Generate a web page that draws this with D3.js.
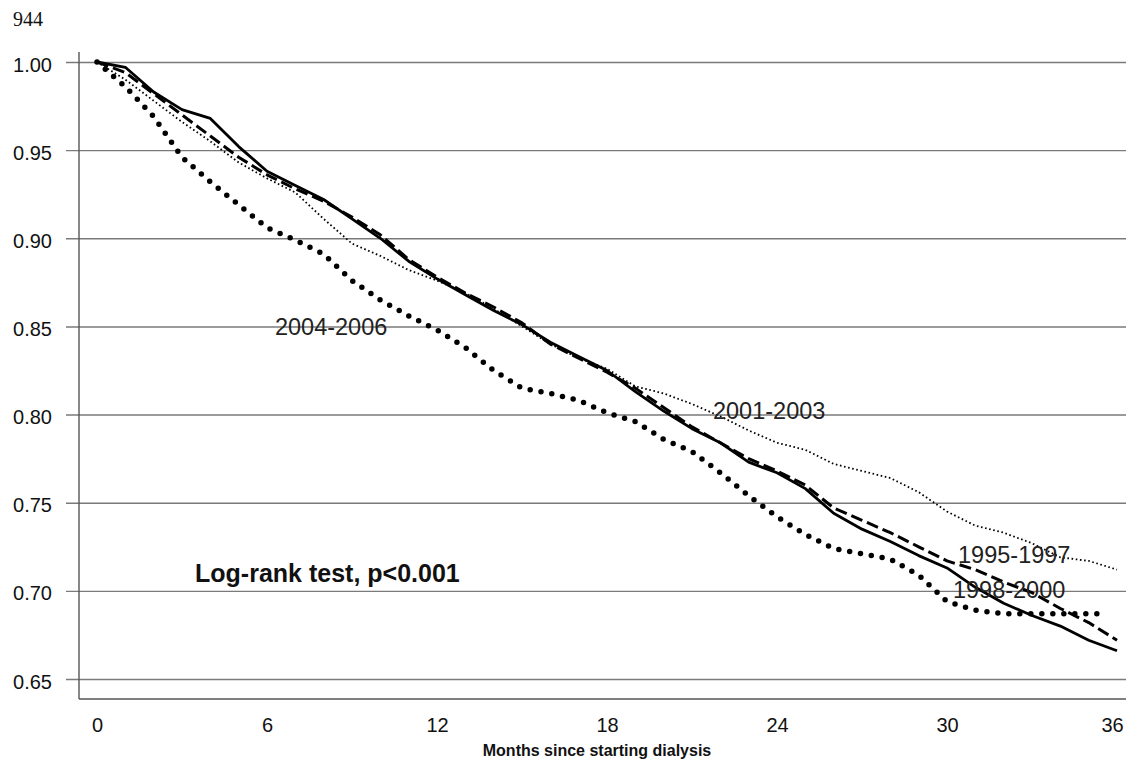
<!DOCTYPE html>
<html>
<head>
<meta charset="utf-8">
<script src="https://cdn.jsdelivr.net/npm/d3@7"></script>
<style>
  body { margin: 0; background: #fff; }
  svg { display: block; font-family: "Liberation Sans", Arial, sans-serif; }
</style>
</head>
<body>
<svg id="chart" width="1126" height="774"></svg>
<script>
'use strict';

// months since starting dialysis
const months = [0, 1, 2, 3, 4, 5, 6, 7, 8, 9, 10, 11, 12, 13, 14, 15, 16, 17, 18,
  19, 20, 21, 22, 23, 24, 25, 26, 27, 28, 29, 30, 31, 32, 33, 34, 35, 36];
// the 2004-2006 cohort stops a bit earlier
const months0406 = [0, 1, 2, 3, 4, 5, 6, 7, 8, 9, 10, 11, 12, 13, 14, 15, 16, 17, 18,
  19, 20, 21, 22, 23, 24, 25, 26, 27, 28, 29, 30, 31, 32, 33, 34, 35, 35.5];

const surv9597 = [1.000, 0.994, 0.982, 0.970, 0.958, 0.946, 0.936, 0.928, 0.921, 0.912,
  0.902, 0.888, 0.878, 0.869, 0.861, 0.852, 0.840, 0.832, 0.824, 0.815, 0.804, 0.793,
  0.784, 0.775, 0.768, 0.760, 0.747, 0.740, 0.733, 0.725, 0.717, 0.712, 0.705, 0.699,
  0.690, 0.682, 0.672];
const surv9800 = [1.000, 0.997, 0.983, 0.973, 0.968, 0.952, 0.938, 0.930, 0.922, 0.911,
  0.900, 0.887, 0.877, 0.868, 0.859, 0.851, 0.841, 0.833, 0.825, 0.813, 0.802, 0.792,
  0.784, 0.773, 0.767, 0.758, 0.744, 0.735, 0.728, 0.720, 0.713, 0.702, 0.693, 0.686,
  0.680, 0.672, 0.666];
const surv0103 = [1.000, 0.990, 0.978, 0.966, 0.955, 0.943, 0.934, 0.926, 0.911, 0.897,
  0.890, 0.882, 0.876, 0.869, 0.860, 0.850, 0.840, 0.832, 0.826, 0.816, 0.812, 0.806,
  0.799, 0.791, 0.784, 0.780, 0.772, 0.768, 0.764, 0.756, 0.745, 0.737, 0.733, 0.727,
  0.719, 0.717, 0.712];
const surv0406 = [1.000, 0.986, 0.969, 0.946, 0.932, 0.919, 0.906, 0.899, 0.891, 0.876,
  0.865, 0.856, 0.848, 0.838, 0.825, 0.815, 0.812, 0.808, 0.801, 0.796, 0.786, 0.779,
  0.767, 0.754, 0.742, 0.732, 0.724, 0.721, 0.718, 0.709, 0.694, 0.689, 0.687, 0.687,
  0.687, 0.687, 0.687];

const xTicks = [0, 6, 12, 18, 24, 30, 36];
const yTicks = [0.65, 0.70, 0.75, 0.80, 0.85, 0.90, 0.95, 1.00];

const svg = d3.select('#chart');

const x = d3.scaleLinear().domain([0, 36]).range([97, 1117]);
const y = d3.scaleLinear().domain([0.65, 1]).range([679, 62]);

const axisLeft = 79;
const plotTop = 52;
const plotBottom = 699;

// page number
svg.append('text')
  .attr('x', 13)
  .attr('y', 26)
  .style('font-family', '"Liberation Serif", "Times New Roman", serif')
  .style('font-size', '20px')
  .attr('fill', '#111')
  .text('944');

// horizontal gridlines (extend left of the axis like ticks)
const yAxis = d3.axisLeft(y)
  .tickValues(yTicks)
  .tickFormat(d3.format('.2f'))
  .tickSize(-(1126 - 66))
  .tickPadding(14);

const gy = svg.append('g')
  .attr('transform', `translate(66,0)`)
  .call(yAxis);
gy.select('.domain').remove();
gy.selectAll('.tick line')
  .attr('stroke', '#7a7a7a')
  .attr('stroke-width', 1.4);
gy.selectAll('.tick text')
  .attr('dy', '0.45em')
  .attr('fill', '#111')
  .style('font-size', '20px')
  .style('font-family', '"Liberation Sans", Arial, sans-serif');

// axis lines
svg.append('line')
  .attr('x1', axisLeft).attr('x2', axisLeft)
  .attr('y1', plotTop).attr('y2', plotBottom)
  .attr('stroke', '#555').attr('stroke-width', 1.4);
svg.append('line')
  .attr('x1', axisLeft).attr('x2', 1126)
  .attr('y1', plotBottom).attr('y2', plotBottom)
  .attr('stroke', '#555').attr('stroke-width', 1.4);

// x tick labels
const xAxis = d3.axisBottom(x)
  .tickValues(xTicks)
  .tickSize(0)
  .tickPadding(19);
const gx = svg.append('g')
  .attr('transform', `translate(0,${plotBottom})`)
  .call(xAxis);
gx.select('.domain').remove();
gx.selectAll('.tick text')
  .attr('fill', '#111')
  .attr('dx', d => d === 36 ? '-0.25em' : null)
  .style('font-size', '20px')
  .style('font-family', '"Liberation Sans", Arial, sans-serif');

svg.append('text')
  .attr('x', 597)
  .attr('y', 756)
  .attr('text-anchor', 'middle')
  .style('font-size', '16px')
  .style('font-weight', 'bold')
  .attr('fill', '#111')
  .text('Months since starting dialysis');

// survival curves
const toPoints = (ms, vals) => ms.map((m, i) => [m, vals[i]]);

const line = d3.line()
  .x(d => x(d[0]))
  .y(d => y(d[1]));

const curves = [
  { pts: toPoints(months, surv0103), width: 1.8, dash: '1.6 2.6', cap: 'butt' },
  { pts: toPoints(months0406, surv0406), width: 5.5, dash: '0 11', cap: 'round' },
  { pts: toPoints(months, surv9597), width: 3, dash: '12 5', cap: 'butt' },
  { pts: toPoints(months, surv9800), width: 2.8, dash: null, cap: 'butt' }
];

svg.append('g')
  .selectAll('path')
  .data(curves)
  .enter()
  .append('path')
  .attr('d', d => line(d.pts))
  .attr('fill', 'none')
  .attr('stroke', '#000')
  .attr('stroke-width', d => d.width)
  .attr('stroke-dasharray', d => d.dash)
  .attr('stroke-linecap', d => d.cap)
  .attr('stroke-linejoin', 'round');

// curve labels
const labels = [
  { text: '2004-2006', m: 6.28, v: 0.845 },
  { text: '2001-2003', m: 21.74, v: 0.7976 },
  { text: '1995-1997', m: 30.39, v: 0.716 },
  { text: '1998-2000', m: 30.21, v: 0.6961 }
];

svg.append('g')
  .selectAll('text')
  .data(labels)
  .enter()
  .append('text')
  .attr('x', d => x(d.m))
  .attr('y', d => y(d.v))
  .attr('fill', '#222')
  .style('font-size', '23.5px')
  .text(d => d.text);

svg.append('text')
  .attr('x', x(3.46))
  .attr('y', y(0.7052))
  .attr('fill', '#111')
  .style('font-size', '25px')
  .style('font-weight', 'bold')
  .text('Log-rank test, p<0.001');
</script>
</body>
</html>
